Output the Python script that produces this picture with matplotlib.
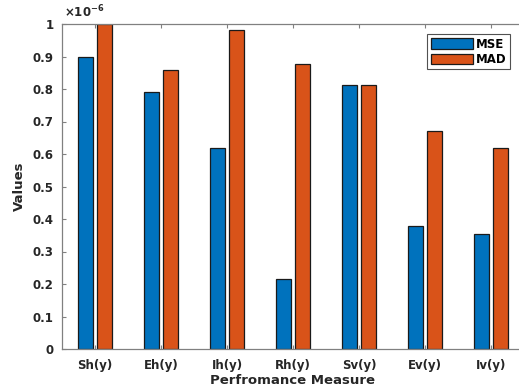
import numpy as np
import matplotlib
matplotlib.use('Agg')
import matplotlib.pyplot as plt

# data, in units of 1e-6
categories = ['Sh(y)', 'Eh(y)', 'Ih(y)', 'Rh(y)', 'Sv(y)', 'Ev(y)', 'Iv(y)']
mse = [0.898, 0.790, 0.620, 0.214, 0.811, 0.380, 0.355]
mad = [1.000, 0.860, 0.983, 0.878, 0.811, 0.670, 0.617]
y_ticks = [0, 0.1, 0.2, 0.3, 0.4, 0.5, 0.6, 0.7, 0.8, 0.9, 1]

plt.rcParams['font.family'] = ['DejaVu Sans']
plt.rcParams['font.weight'] = 'bold'

fig = plt.figure(figsize=(5.19, 3.92), dpi=100)
W, H = 519, 392
# axes box runs a little past the right edge of the picture (cropped like the original)
ax = fig.add_axes([62 / W, 1 - 349 / H, (524 - 62) / W, (349 - 24) / H])

x = np.arange(len(categories))
ax.bar(x - 0.15, mse, width=0.23, color='#0072BD', edgecolor='#1a1a1a', linewidth=0.9, label='MSE')
ax.bar(x + 0.145, mad, width=0.22, color='#D95319', edgecolor='#1a1a1a', linewidth=0.9, label='MAD')

ax.set_xlim(-0.5, 6.5)
ax.set_ylim(0, 1)
ax.set_xticks(x)
ax.set_xticklabels(categories)
ax.set_yticks(y_ticks)
ax.set_yticklabels(['%g' % t for t in y_ticks])

txt = '#262626'
for s in ax.spines.values():
    s.set_color('#808080')
    s.set_linewidth(0.9)
ax.tick_params(direction='in', length=3, width=0.8, color='#808080', labelcolor=txt,
               labelsize=8.5, top=True, right=True)
ax.tick_params(axis='x', pad=7)
ax.tick_params(axis='y', pad=6)

ax.set_ylabel('Values', fontsize=9.5, fontweight='bold', color=txt, labelpad=5)
ax.set_xlabel('Perfromance Measure', fontsize=9.5, fontweight='bold', color=txt, labelpad=2)
ax.text(0.005, 1.01, r'$\times\mathregular{10^{-6}}$', transform=ax.transAxes,
        fontsize=8.5, color=txt, ha='left', va='bottom')

leg = ax.legend(loc='upper left', bbox_to_anchor=((427 - 62) / 462, 1 - 10 / 325),
                fontsize=8.5, frameon=True, fancybox=False, borderpad=0.3,
                handlelength=3.6, handleheight=1.0, handletextpad=0.25, labelspacing=0.2,
                borderaxespad=0)
leg.get_frame().set_edgecolor('#262626')
leg.get_frame().set_linewidth(0.8)
for t in leg.get_texts():
    t.set_fontweight('bold')

fig.savefig('out.png', dpi=100)
